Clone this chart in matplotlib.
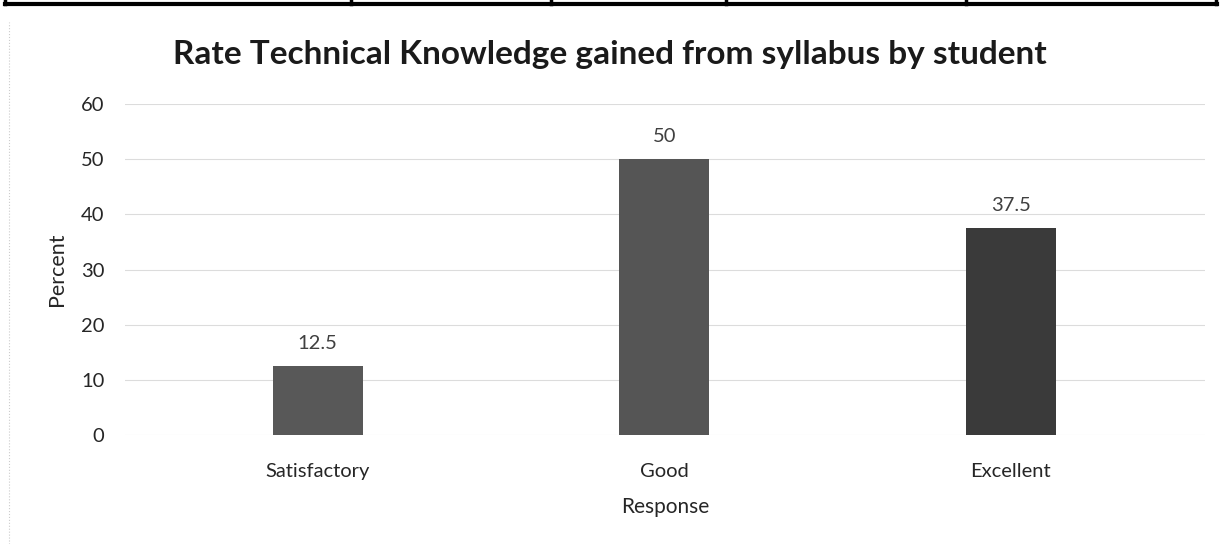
import matplotlib.pyplot as plt
from matplotlib.lines import Line2D

plt.rcParams['font.family'] = ['Lato', 'DejaVu Sans']

responses = ['Satisfactory', 'Good', 'Excellent']
percent = [12.5, 50, 37.5]
bar_colors = ['#585858', '#555555', '#3a3a3a']
yticks = [0, 10, 20, 30, 40, 50, 60]

fig = plt.figure(figsize=(12.27, 5.44), dpi=100)
ax = fig.add_axes([0.102, 0.2, 0.88, 0.609])

x = range(len(responses))
bars = ax.bar(x, percent, width=0.26, color=bar_colors)
for b, v in zip(bars, percent):
    ax.annotate(f'{v:g}', (b.get_x() + b.get_width() / 2, v), xytext=(0, 10),
                textcoords='offset points', ha='center', va='bottom',
                fontsize=14.5, color='#404040')

ax.set_xlim(-0.556, 2.561)
ax.set_ylim(0, 60)
ax.set_yticks(yticks)
ax.set_xticks(list(x))
ax.set_xticklabels(responses)
ax.tick_params(length=0, labelsize=14.5, colors='#262626')
ax.tick_params(axis='x', pad=20)
ax.tick_params(axis='y', pad=15)
ax.yaxis.grid(True, color='#dcdcdc', linewidth=0.8)
ax.set_axisbelow(True)
for s in ax.spines.values():
    s.set_visible(False)

ax.set_xlabel('Response', fontsize=15, color='#262626', labelpad=12)
ax.set_ylabel('Percent', fontsize=15.5, color='#262626', labelpad=10)
fig.text(0.497, 0.9, 'Rate Technical Knowledge gained from syllabus by student',
         ha='center', va='center', fontsize=24, fontweight='bold', color='#1a1a1a')

# bottom edge of the table above the chart
fig.add_artist(Line2D([0.004, 0.992], [0.992, 0.992], color='black', linewidth=3))
for xd in [0.004, 0.286, 0.449, 0.592, 0.787, 0.991]:
    fig.add_artist(Line2D([xd, xd], [0.992, 1.0], color='black', linewidth=2.5))
# faint chart frame on the left
fig.add_artist(Line2D([0.007, 0.007], [0.0, 0.96], color='#cccccc',
                      linewidth=0.8, linestyle=':'))

fig.savefig('out.png', dpi=100)
